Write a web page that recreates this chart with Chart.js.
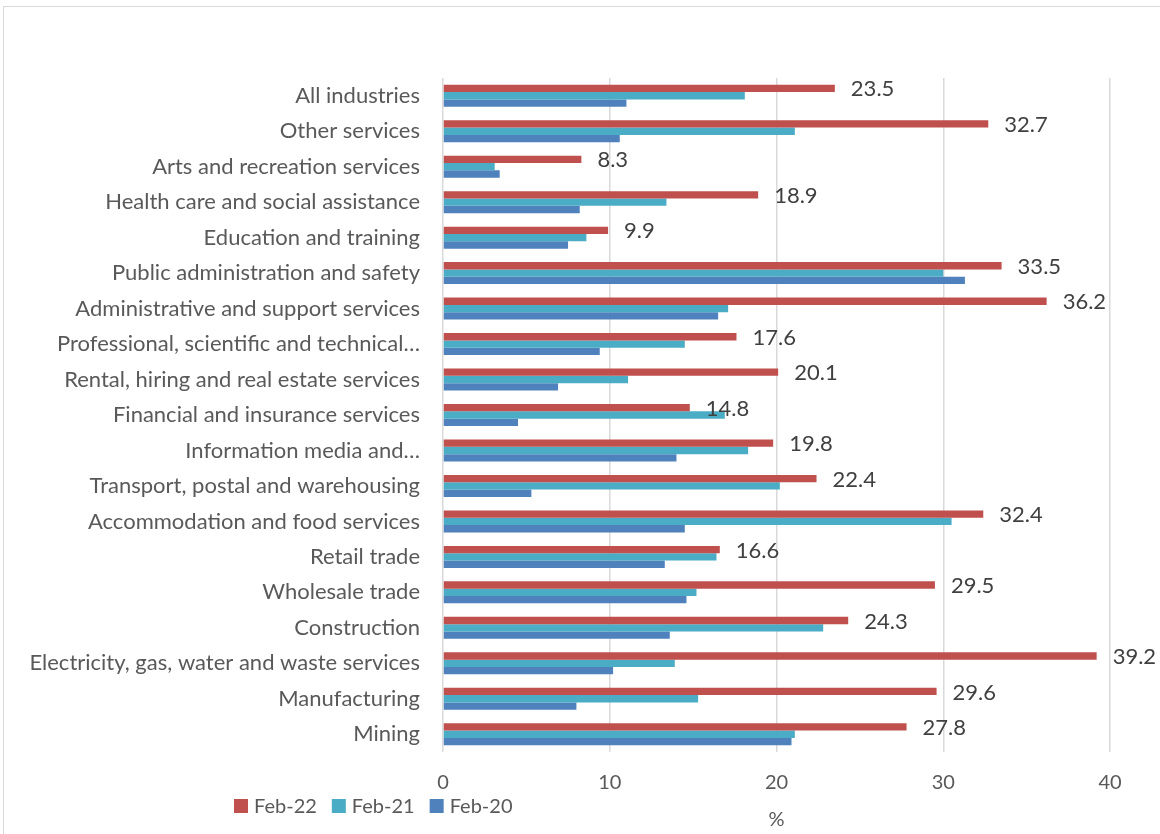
<!DOCTYPE html>
<html>
<head>
<meta charset="utf-8">
<script src="https://cdn.jsdelivr.net/npm/chart.js@4/dist/chart.umd.min.js"></script>
<style>
  html, body { margin: 0; padding: 0; background: #ffffff; }
  #wrap { position: relative; width: 1160px; height: 834px; overflow: hidden; }
  #frame { position: absolute; left: 3px; top: 6px; width: 1200px; height: 900px; border: 1px solid #d9d9d9; box-sizing: border-box; }
  #chart { position: absolute; left: 0; top: 0; }
</style>
</head>
<body>
<div id="wrap">
  <div id="frame"></div>
  <canvas id="chart" width="1160" height="834"></canvas>
</div>
<script>
// Industries, listed top to bottom
const industries = [
  'All industries',
  'Other services',
  'Arts and recreation services',
  'Health care and social assistance',
  'Education and training',
  'Public administration and safety',
  'Administrative and support services',
  'Professional, scientific and technical\u2026',
  'Rental, hiring and real estate services',
  'Financial and insurance services',
  'Information media and\u2026',
  'Transport, postal and warehousing',
  'Accommodation and food services',
  'Retail trade',
  'Wholesale trade',
  'Construction',
  'Electricity, gas, water and waste services',
  'Manufacturing',
  'Mining'
];

const seriesNames = ['Feb-22', 'Feb-21', 'Feb-20'];

// Share of businesses (%) by industry
const feb22 = [23.5, 32.7, 8.3, 18.9, 9.9, 33.5, 36.2, 17.6, 20.1, 14.8, 19.8, 22.4, 32.4, 16.6, 29.5, 24.3, 39.2, 29.6, 27.8];
const feb21 = [18.1, 21.1, 3.1, 13.4, 8.6, 30.0, 17.1, 14.5, 11.1, 16.9, 18.3, 20.2, 30.5, 16.4, 15.2, 22.8, 13.9, 15.3, 21.1];
const feb20 = [11.0, 10.6, 3.4, 8.2, 7.5, 31.3, 16.5, 9.4, 6.9, 4.5, 14.0, 5.3, 14.5, 13.3, 14.6, 13.6, 10.2, 8.0, 20.9];

const xTicks = [0, 10, 20, 30, 40];
const xTitle = '%';

const colors = ['#C0504D', '#4BACC6', '#4F81BD'];
const FONT = 'Lato, "Liberation Sans", sans-serif';

// Value labels at the end of the Feb-22 bars
const valueLabels = {
  id: 'valueLabels',
  afterDatasetsDraw(chart) {
    const ctx = chart.ctx;
    const meta = chart.getDatasetMeta(0);
    ctx.save();
    ctx.font = '22px ' + FONT;
    ctx.fillStyle = '#404040';
    ctx.textAlign = 'left';
    ctx.textBaseline = 'middle';
    meta.data.forEach((bar, i) => {
      const v = chart.data.datasets[0].data[i];
      ctx.fillText(v.toFixed(1), bar.x + 16, bar.y + 1);
    });
    ctx.restore();
  }
};

// Legend row below the axis labels
const bottomLegend = {
  id: 'bottomLegend',
  afterDraw(chart) {
    const ctx = chart.ctx;
    ctx.save();
    ctx.font = '20px ' + FONT;
    ctx.textBaseline = 'middle';
    ctx.textAlign = 'left';
    let x = 234;
    const y = 806;
    chart.data.datasets.forEach(ds => {
      ctx.fillStyle = ds.backgroundColor;
      ctx.fillRect(x, y - 7, 14, 14);
      ctx.fillStyle = '#595959';
      ctx.fillText(ds.label, x + 20, y + 1);
      x += 20 + ctx.measureText(ds.label).width + 15;
    });
    ctx.restore();
  }
};

new Chart(document.getElementById('chart'), {
  type: 'bar',
  data: {
    labels: industries,
    datasets: [
      { label: seriesNames[0], data: feb22, backgroundColor: colors[0] },
      { label: seriesNames[1], data: feb21, backgroundColor: colors[1] },
      { label: seriesNames[2], data: feb20, backgroundColor: colors[2] }
    ]
  },
  options: {
    indexAxis: 'y',
    responsive: false,
    animation: false,
    layout: { padding: { left: 0, right: 50, top: 78, bottom: 0 } },
    datasets: { bar: { categoryPercentage: 0.62, barPercentage: 1.0 } },
    plugins: {
      legend: { display: false },
      tooltip: { enabled: false }
    },
    scales: {
      x: {
        min: 0,
        max: 40,
        afterBuildTicks(scale) { scale.ticks = xTicks.map(v => ({ value: v })); },
        afterFit(scale) { scale.height = 82; },
        grid: { color: '#d9d9d9', lineWidth: 1.5, drawTicks: false },
        border: { display: false },
        ticks: { padding: 19, color: '#595959', font: { family: FONT, size: 20 } },
        title: { display: true, text: xTitle, color: '#595959', font: { family: FONT, size: 20 }, padding: { top: 0, bottom: 2 } }
      },
      y: {
        afterFit(scale) { scale.width = 443; },
        grid: { display: false, drawTicks: false },
        border: { display: false },
        ticks: { padding: 23, color: '#595959', font: { family: FONT, size: 22 }, autoSkip: false }
      }
    }
  },
  plugins: [valueLabels, bottomLegend]
});
</script>
</body>
</html>
